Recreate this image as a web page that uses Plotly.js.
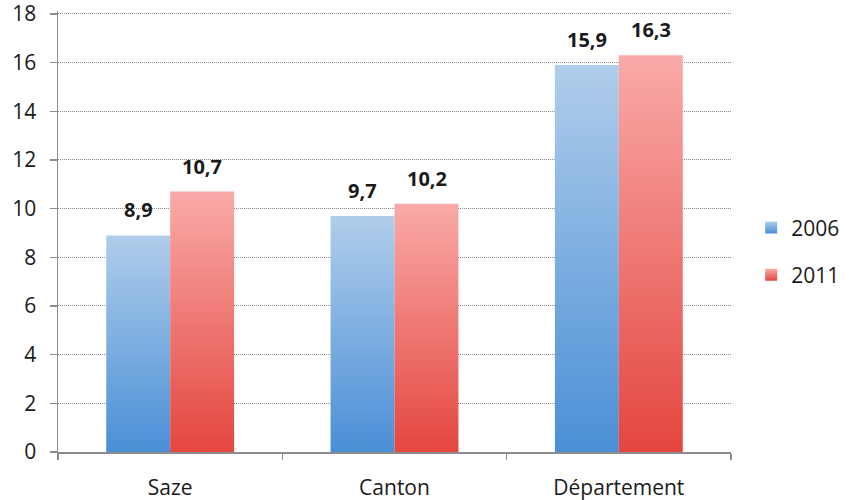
<!DOCTYPE html>
<html>
<head>
<meta charset="utf-8">
<script src="https://cdn.plot.ly/plotly-3.0.1.min.js"></script>
<style>
  html, body { margin: 0; padding: 0; background: #fff; }
  #chart { width: 849px; height: 500px; }
</style>
</head>
<body>
<div id="chart"></div>
<script>
// Categories and values (en %)
const categories = ['Saze', 'Canton', 'Département'];
const years = ['2006', '2011'];
const values2006 = [8.9, 9.7, 15.9];
const values2011 = [10.7, 10.2, 16.3];
const yTicks = [0, 2, 4, 6, 8, 10, 12, 14, 16, 18];

const FONT = '"Open Sans", "Liberation Sans", sans-serif';
const TEXT = '#1a1a1a';

// Vertical gradients used to fill the bars (light at top, saturated at bottom)
const gradients = {
  blue: [['0%', '#b0cdeb'], ['100%', '#4a8fd6']],
  red:  [['0%', '#f9aaa8'], ['100%', '#e4463f']]
};

const series = [
  { name: years[0], values: values2006, base: '#7aaee2', grad: 'blue', shift: -32 },
  { name: years[1], values: values2011, base: '#ef7a74', grad: 'red',  shift: 32 }
];

const traces = series.map((s, i) => ({
  type: 'bar',
  name: s.name,
  x: categories,
  y: s.values,
  legendgroup: 'g' + i,
  marker: { color: s.base, line: { width: 0 } },
  hoverinfo: 'skip'
}));

// Value labels above each bar, written with a decimal comma
const annotations = [];
series.forEach(s => {
  s.values.forEach((v, j) => {
    annotations.push({
      x: categories[j], y: v, xref: 'x', yref: 'y',
      text: '<b>' + v.toFixed(1).replace('.', ',') + '</b>',
      showarrow: false, xshift: s.shift, yshift: 10, yanchor: 'bottom',
      font: { family: FONT, size: 20, color: TEXT }
    });
  });
});

const layout = {
  width: 849, height: 500,
  margin: { l: 58, r: 118, t: 11, b: 48, autoexpand: false },
  paper_bgcolor: '#fff', plot_bgcolor: '#fff',
  barmode: 'group', bargap: 0.43, bargroupgap: 0,
  font: { family: FONT, color: TEXT, size: 21 },
  showlegend: true,
  legend: {
    x: 1.03, xanchor: 'left', y: 0.455, yanchor: 'middle',
    font: { family: FONT, size: 21, color: TEXT },
    traceorder: 'grouped', tracegroupgap: 17,
    itemwidth: 30
  },
  xaxis: {
    type: 'category',
    showline: true, linecolor: '#8c8c8c', linewidth: 1.5,
    ticks: 'outside', tickson: 'boundaries', ticklen: 6, tickcolor: '#8c8c8c', tickwidth: 1.5,
    tickfont: { family: FONT, size: 21, color: TEXT },
    ticklabelstandoff: 16,
    showgrid: false, zeroline: false, fixedrange: true
  },
  yaxis: {
    range: [0, 18.12], tickvals: yTicks,
    showline: true, linecolor: '#8c8c8c', linewidth: 1.5,
    ticks: 'outside', ticklen: 7, tickcolor: '#8c8c8c', tickwidth: 1.5,
    tickfont: { family: FONT, size: 21, color: TEXT },
    ticklabelstandoff: 9, ticklabeloverflow: 'allow',
    showgrid: true, gridcolor: '#8a8a8a', gridwidth: 1, griddash: '1px,1px',
    zeroline: false, fixedrange: true
  },
  annotations: annotations
};

function addGradients(gd) {
  const svg = gd.querySelector('svg.main-svg');
  const ns = 'http://www.w3.org/2000/svg';
  let defs = svg.querySelector('defs');
  if (!defs) { defs = document.createElementNS(ns, 'defs'); svg.insertBefore(defs, svg.firstChild); }
  Object.keys(gradients).forEach(key => {
    const lg = document.createElementNS(ns, 'linearGradient');
    lg.setAttribute('id', 'bar-grad-' + key);
    lg.setAttribute('x1', '0'); lg.setAttribute('y1', '0');
    lg.setAttribute('x2', '0'); lg.setAttribute('y2', '1');
    gradients[key].forEach(([off, col]) => {
      const st = document.createElementNS(ns, 'stop');
      st.setAttribute('offset', off);
      st.setAttribute('stop-color', col);
      lg.appendChild(st);
    });
    defs.appendChild(lg);
  });
  const barTraces = gd.querySelectorAll('.barlayer .trace');
  barTraces.forEach((t, i) => {
    t.querySelectorAll('path').forEach(p => {
      p.style.fill = 'url(#bar-grad-' + series[i].grad + ')';
    });
  });
  const legendTraces = gd.querySelectorAll('.legend .traces');
  legendTraces.forEach((t, i) => {
    t.querySelectorAll('.legendpoints path').forEach(p => {
      p.style.fill = 'url(#bar-grad-' + series[i].grad + ')';
    });
  });
}

const gd = document.getElementById('chart');
Plotly.newPlot(gd, traces, layout, { staticPlot: true, displayModeBar: false })
  .then(() => addGradients(gd));
</script>
</body>
</html>
